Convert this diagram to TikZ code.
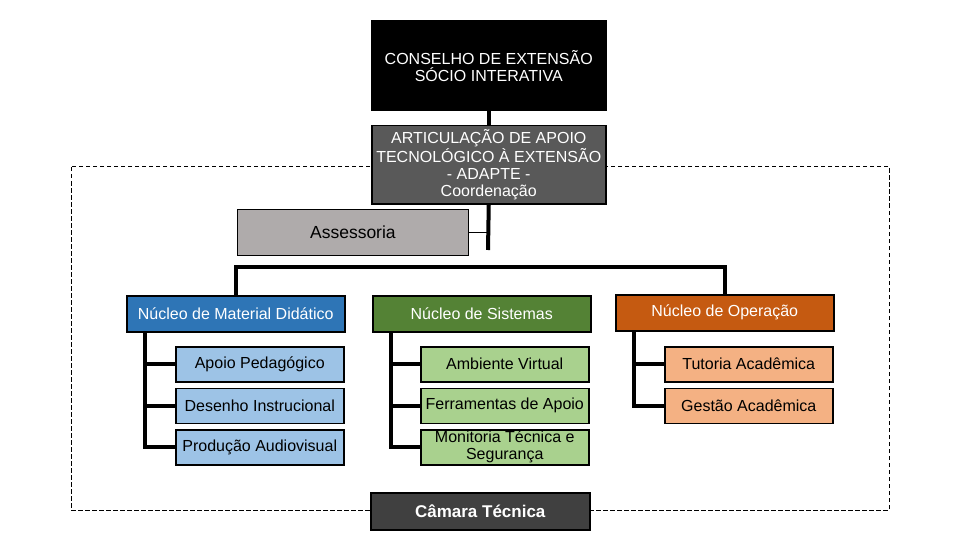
\documentclass[tikz,border=0pt]{standalone}
\usepackage{fontspec}
\setmainfont{Liberation Sans}
\usetikzlibrary{positioning}

\definecolor{azul}{HTML}{2E75B6}
\definecolor{azulclaro}{HTML}{9DC3E6}
\definecolor{verde}{HTML}{548235}
\definecolor{verdeclaro}{HTML}{A9D18E}
\definecolor{laranja}{HTML}{C55A11}
\definecolor{laranjaclaro}{HTML}{F4B183}
\definecolor{cinza}{HTML}{595959}
\definecolor{cinzaclaro}{HTML}{AFABAB}
\definecolor{grafite}{HTML}{404040}

\begin{document}
\begin{tikzpicture}[x=1pt, y=-1pt,
      box/.style={draw, line width=1.5pt, inner sep=1pt, align=center,
                  anchor=north west, font=\fontsize{16}{17}\selectfont},
      nucleo/.style={box, text=white, minimum width=218pt, minimum height=36pt},
      sub/.style={box, minimum width=168pt, minimum height=35pt},
      link/.style={line width=4pt}]

    \useasboundingbox (0,0) rectangle (960,540);
    \def\gap{5pt}  % vertical gap between stacked sub boxes

    % Dashed frame (drawn first, boxes sit on top of it)
    \draw[dash pattern=on 4.5pt off 2.5pt, line width=1pt] (71,167) rectangle (889,510);

    % Top of the chart
    \node[box, fill=black, text=white, minimum width=234pt, minimum height=90pt] (conselho) at (371,20)
      {CONSELHO DE EXTENSÃO\\SÓCIO INTERATIVA};
    \node[box, fill=cinza, text=white, minimum width=234pt, minimum height=78pt] (adapte) at (371,125)
      {ARTICULAÇÃO DE APOIO\\TECNOLÓGICO À EXTENSÃO\\- ADAPTE -\\Coordenação};
    \node[box, line width=0.8pt, fill=cinzaclaro, font=\fontsize{17.5}{18}\selectfont,
          minimum width=231pt, minimum height=46pt] (assessoria) at (237,209) {Assessoria};

    \coordinate (fimeixo) at (488,250);
    \draw[link] (conselho.south) -- (adapte.north);
    \draw[link] (adapte.south) -- (fimeixo);
    \draw[line width=0.8pt] (assessoria.east) -- (assessoria.east -| fimeixo);

    % Nucleos
    \node[nucleo, fill=azul] (material) at (126,295) {Núcleo de Material Didático};
    \node[nucleo, fill=verde] (sistemas) at (372,295) {Núcleo de Sistemas};
    \node[nucleo, fill=laranja] (operacao) at (615,294) {Núcleo de Operação};

    \draw[link] (material.north) -- ++(0,-28) -| (operacao.north);

    % Material Didatico
    \node[sub, fill=azulclaro] (apoio) at (175,346) {Apoio Pedagógico};
    \node[sub, fill=azulclaro, below=\gap of apoio.south west, anchor=north west] (desenho) {Desenho Instrucional};
    \node[sub, fill=azulclaro, below=\gap of desenho.south west, anchor=north west] (producao) {Produção Audiovisual};
    \coordinate (ramomat) at ([xshift=19pt]material.south west);
    \draw[link] (ramomat) |- (producao.west);
    \draw[link] (ramomat) |- (apoio.west);
    \draw[link] (ramomat) |- (desenho.west);

    % Sistemas
    \node[sub, fill=verdeclaro] (ambiente) at (420,346) {Ambiente Virtual};
    \node[sub, fill=verdeclaro, below=\gap of ambiente.south west, anchor=north west] (ferramentas) {Ferramentas de Apoio};
    \node[sub, fill=verdeclaro, below=\gap of ferramentas.south west, anchor=north west] (monitoria)
      {Monitoria Técnica e\\Segurança};
    \coordinate (ramosis) at ([xshift=19pt]sistemas.south west);
    \draw[link] (ramosis) |- (monitoria.west);
    \draw[link] (ramosis) |- (ambiente.west);
    \draw[link] (ramosis) |- (ferramentas.west);

    % Operacao
    \node[sub, fill=laranjaclaro] (tutoria) at (664,346) {Tutoria Acadêmica};
    \node[sub, fill=laranjaclaro, below=\gap of tutoria.south west, anchor=north west] (gestao) {Gestão Acadêmica};
    \coordinate (ramoop) at ([xshift=19pt]operacao.south west);
    \draw[link] (ramoop) |- (gestao.west);
    \draw[link] (ramoop) |- (tutoria.west);

    % Camara Tecnica on the bottom edge of the frame
    \node[box, fill=grafite, text=white, font=\fontsize{17}{18}\selectfont\bfseries,
          minimum width=219pt, minimum height=37pt] (camara) at (370,492) {Câmara Técnica};

\end{tikzpicture}
\end{document}
